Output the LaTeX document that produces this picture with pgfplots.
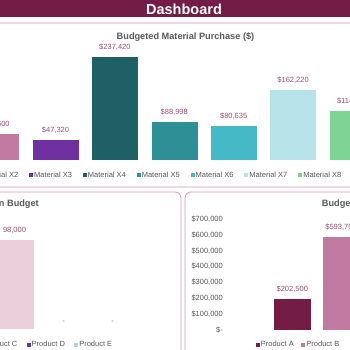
\documentclass[border=0pt]{standalone}
\usepackage{pgfplots}
\pgfplotsset{compat=1.18}
\usepackage{fontspec}
\setmainfont{Liberation Sans}
\definecolor{maroon}{HTML}{731C45}
\definecolor{pinkb}{HTML}{C27BA0}
\definecolor{purp}{HTML}{7030A0}
\definecolor{dteal}{HTML}{1F6066}
\definecolor{tealv}{HTML}{2E8F96}
\definecolor{tealvi}{HTML}{45BAC6}
\definecolor{lblue}{HTML}{B7E4E9}
\definecolor{lgreen}{HTML}{7DD494}
\definecolor{lpink}{HTML}{EBD0DC}
\definecolor{panel}{HTML}{D49AB8}
\definecolor{lbl}{HTML}{A04F7A}
\definecolor{txt}{HTML}{595959}
\pgfplotsset{
  dash/.style={
    scale only axis, ybar, bar shift=0pt, clip=false, hide axis,
    nodes near coords, point meta=explicit symbolic,
    every node near coord/.append style={font=\fontsize{7.5}{9}\selectfont, text=lbl, yshift=2pt},
    legend style={draw=none, fill=none, inner sep=0pt, font=\fontsize{7.5}{9}\selectfont, text=txt,
      legend columns=-1, nodes={inner sep=1pt}},
    legend image code/.code={\fill[##1, draw=none] (0pt,-2pt) rectangle (4pt,2pt);},
  }
}
\begin{document}
\begin{tikzpicture}[x=1pt,y=1pt]
\useasboundingbox (0,0) rectangle (350,350);
\clip (0,0) rectangle (350,350);
\fill[white] (0,0) rectangle (350,350);
% banner
\fill[maroon] (-5,333) rectangle (355,355);
\node[white, font=\bfseries\fontsize{14.5}{15}\selectfont] at (184,340.8) {Dashboard};
% panels
\draw[panel, line width=0.8pt, rounded corners=6pt] (-20,327) rectangle (370,163);
\draw[panel, line width=0.8pt, rounded corners=6pt] (-200,158) rectangle (181,-30);
\draw[panel, line width=0.8pt, rounded corners=6pt] (185,158) rectangle (500,-30);
% titles
\node[txt, font=\bfseries\fontsize{9.2}{10}\selectfont] at (185.5,313) {Budgeted Material Purchase (\$)};
\node[txt, font=\bfseries\fontsize{9.2}{10}\selectfont, anchor=east, inner sep=0pt] at (39,146) {Production Budget};
\node[txt, font=\bfseries\fontsize{9.2}{10}\selectfont, anchor=west, inner sep=0pt] at (321.7,146) {Budgeted Sales (\$)};

% top chart
\begin{axis}[dash, at={(0pt,190pt)}, anchor=south west, width=350pt, height=120pt,
  xmin=2.066, xmax=7.958, ymin=0, ymax=274800, bar width=47pt,
  legend style={at={(axis description cs:-0.0712,-0.129)}, anchor=west,
    /tikz/every even column/.append style={column sep=9.9pt}}]
\addplot[fill=pinkb, draw=white] coordinates {(2,61600) [\$61,600]};
\addlegendentry{Material X2}
\addplot[fill=purp, draw=white] coordinates {(3,47320) [\$47,320]};
\addlegendentry{Material X3}
\addplot[fill=dteal, draw=white] coordinates {(4,237420) [\$237,420]};
\addlegendentry{Material X4}
\addplot[fill=tealv, draw=white] coordinates {(5,88998) [\$88,998]};
\addlegendentry{Material X5}
\addplot[fill=tealvi, draw=white] coordinates {(6,80635) [\$80,635]};
\addlegendentry{Material X6}
\addplot[fill=lblue, draw=white] coordinates {(7,162220) [\$162,220]};
\addlegendentry{Material X7}
\addplot[fill=lgreen, draw=white] coordinates {(8,114500) [\$114,500]};
\addlegendentry{Material X8}
\end{axis}

% bottom-left chart
\begin{axis}[dash, at={(0pt,20.7pt)}, anchor=south west, width=181pt, height=100pt,
  xmin=2.704, xmax=6.398, ymin=0, ymax=108889, bar width=39pt,
  legend style={at={(axis description cs:-0.117,-0.157)}, anchor=west,
    /tikz/every even column/.append style={column sep=8.3pt}}]
\addplot[fill=lpink, draw=white] coordinates {(3,98000) [98,000]};
\addlegendentry{Product C}
\addplot[fill=purp, draw=white] coordinates {(4,0) [-]};
\addlegendentry{Product D}
\addplot[fill=lblue!80!tealvi, draw=white] coordinates {(5,0) [-]};
\addlegendentry{Product E}
\end{axis}

% bottom-right chart
\begin{axis}[scale only axis, ybar, bar shift=0pt, clip=false,
  at={(226pt,20pt)}, anchor=south west, width=124pt, height=111pt,
  xmin=-0.361, xmax=2.185, ymin=0, ymax=700000, bar width=38pt,
  axis line style={draw=none}, tick style={draw=none}, xtick=\empty,
  scaled y ticks=false,
  ytick={0,100000,200000,300000,400000,500000,600000,700000},
  yticklabels={{\$-\hspace{4pt}},{\$100,000},{\$200,000},{\$300,000},{\$400,000},{\$500,000},{\$600,000},{\$700,000}},
  yticklabel style={font=\fontsize{7.5}{9}\selectfont, text=txt, anchor=east, inner sep=0pt, xshift=-3pt},
  nodes near coords, point meta=explicit symbolic,
  every node near coord/.append style={font=\fontsize{7.5}{9}\selectfont, text=lbl, yshift=2pt},
  legend style={draw=none, fill=none, inner sep=0pt, font=\fontsize{7.5}{9}\selectfont, text=txt,
    legend columns=-1, nodes={inner sep=1pt},
    at={(axis description cs:0.239,-0.135)}, anchor=west,
    /tikz/every even column/.append style={column sep=6.7pt}},
  legend image code/.code={\fill[#1, draw=none] (0pt,-2pt) rectangle (4pt,2pt);}]
\addplot[fill=maroon, draw=white] coordinates {(1,202500) [\$202,500]};
\addlegendentry{Product A}
\addplot[fill=pinkb, draw=white] coordinates {(2,593750) [\$593,750]};
\addlegendentry{Product B}
\end{axis}
\end{tikzpicture}
\end{document}
